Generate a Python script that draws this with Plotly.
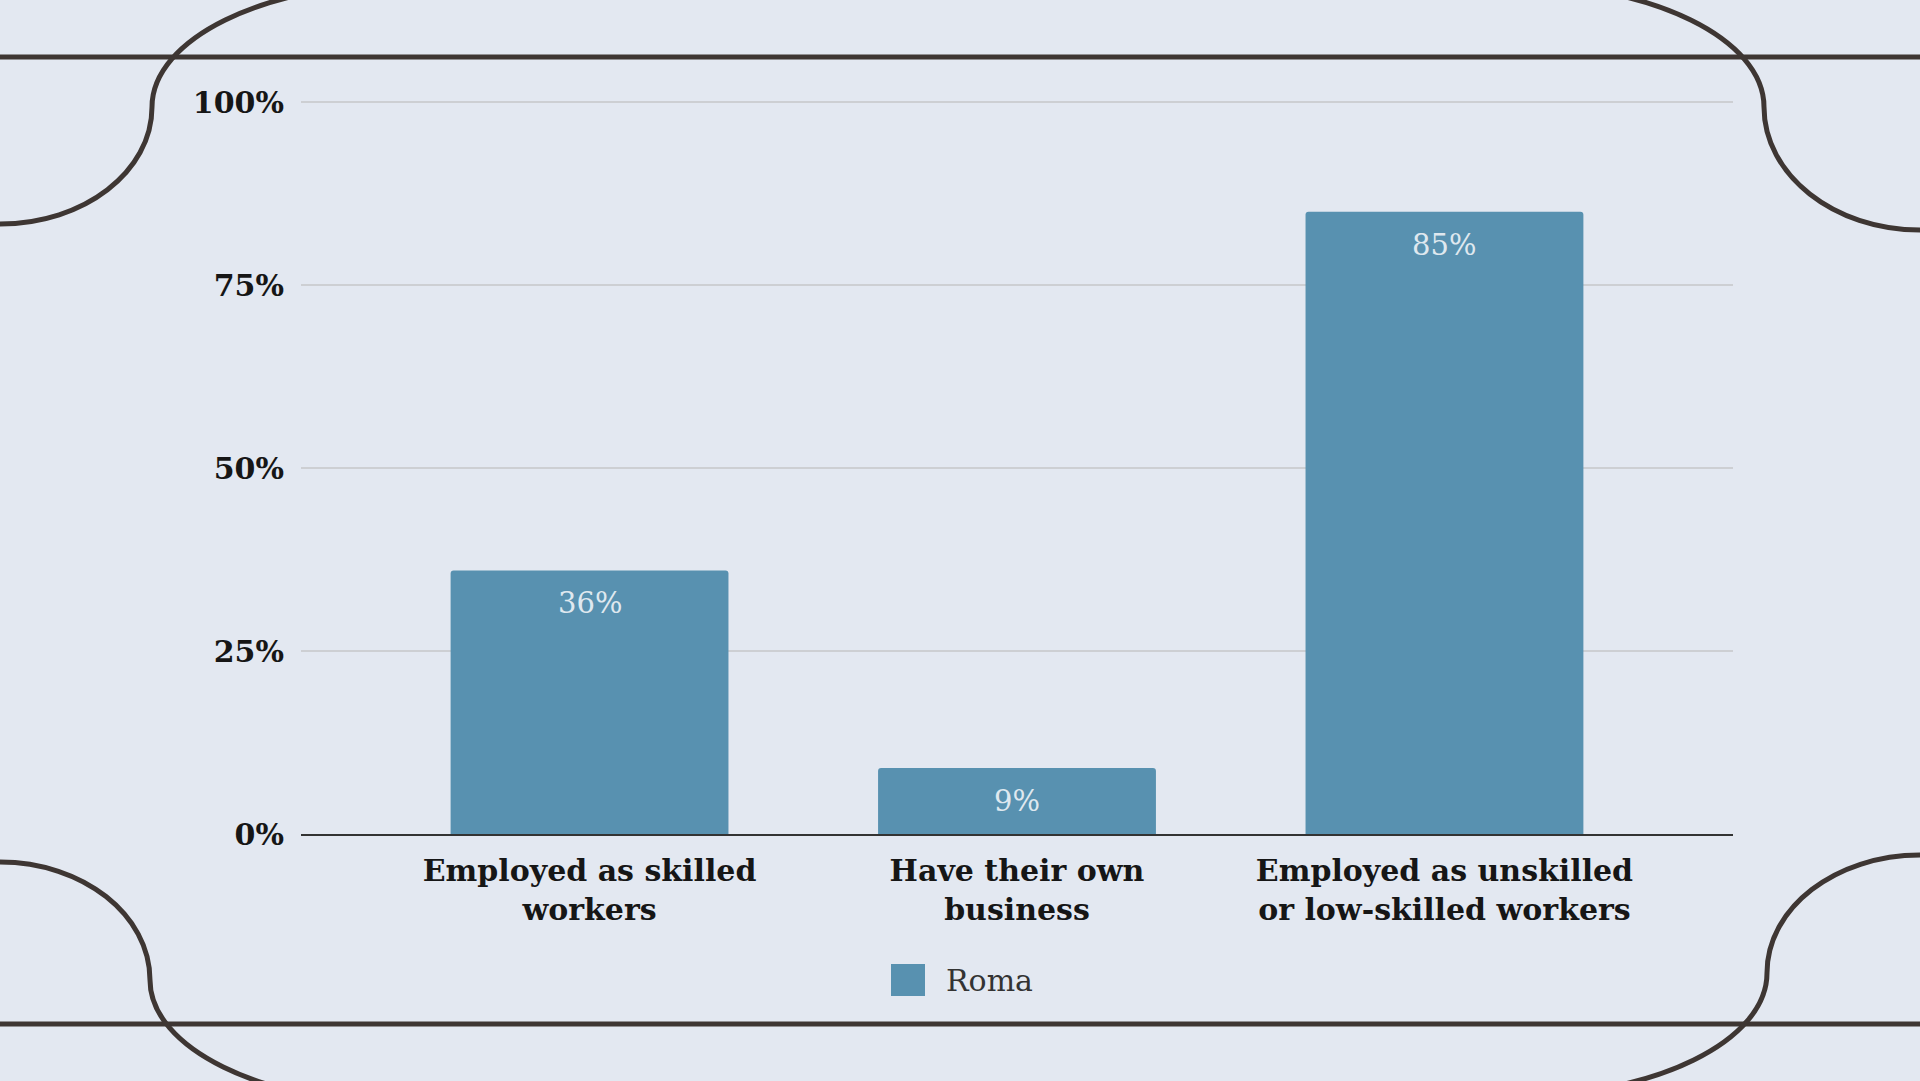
import plotly.graph_objects as go

# ---- data ----
categories = ["Employed as skilled workers", "Have their own business",
              "Employed as unskilled or low-skilled workers"]
tick_labels = ["Employed as skilled<br>workers", "Have their own<br>business",
               "Employed as unskilled<br>or low-skilled workers"]
roma_values = [36, 9, 85]
series_name = "Roma"
y_tickvals = [0, 25, 50, 75, 100]
y_ticktext = ["0%", "25%", "50%", "75%", "100%"]

BG = "#e3e8f1"
BAR = "#5891b0"
DECO = "#3e3633"
W, H = 1920, 1081
L, R, T, B = 301, 187, 98, 247
PW, PH = W - L - R, H - T - B
Y_TOP = 100 * PH / (834 - 102)   # keeps 100% at pixel row 102


def px(X):
    return (X - L) / PW


def py(Y):
    return (H - B - Y) / PH


def pt(X, Y):
    return f"{px(X):.5f},{py(Y):.5f}"


fig = go.Figure()
fig.add_trace(go.Bar(
    x=categories, y=roma_values, name=series_name,
    marker=dict(color=BAR, line=dict(width=0), cornerradius=3),
    showlegend=False,
    hovertemplate="%{y}%<extra></extra>",
))

# value labels inside bars near the top
annotations = []
for c, v in zip(categories, roma_values):
    annotations.append(dict(
        x=c, y=v, xref="x", yref="y", text=f"{v}%", showarrow=False,
        yanchor="middle", yshift=-33,
        font=dict(family="DejaVu Serif", size=29, color="#dfe8ef"),
    ))

# custom legend
annotations.append(dict(
    x=px(944), y=py(980), xref="paper", yref="paper", text=series_name,
    showarrow=False, xanchor="left", yanchor="middle",
    font=dict(family="DejaVu Serif", size=30, color="#333333"),
))

shapes = []
shapes.append(dict(type="rect", xref="paper", yref="paper",
                   x0=px(891), x1=px(925), y0=py(996), y1=py(964),
                   fillcolor=BAR, line=dict(width=0), layer="above"))

# decorative frame lines
for Yl in (57, 1024):
    shapes.append(dict(type="line", xref="paper", yref="paper",
                       x0=px(-10), x1=px(W + 10), y0=py(Yl), y1=py(Yl),
                       line=dict(color=DECO, width=5)))

k = 0.5523
corner_paths = []
# top-left
corner_paths.append(
    f"M{pt(0,224)} C{pt(152*k,224)} {pt(152,107+117*k)} {pt(152,107)} "
    f"C{pt(152,107-123*k)} {pt(402-250*k,-16)} {pt(402,-16)}")
# top-right
corner_paths.append(
    f"M{pt(1920,230)} C{pt(1920-156*k,230)} {pt(1764,107+123*k)} {pt(1764,107)} "
    f"C{pt(1764,107-123*k)} {pt(1514+250*k,-16)} {pt(1514,-16)}")
# bottom-left
corner_paths.append(
    f"M{pt(0,862)} C{pt(150*k,862)} {pt(150,980-118*k)} {pt(150,980)} "
    f"C{pt(150,980+123*k)} {pt(400-250*k,1103)} {pt(400,1103)}")
# bottom-right
corner_paths.append(
    f"M{pt(1920,855)} C{pt(1920-153*k,855)} {pt(1767,973-118*k)} {pt(1767,973)} "
    f"C{pt(1767,973+123*k)} {pt(1517+250*k,1096)} {pt(1517,1096)}")
for p in corner_paths:
    shapes.append(dict(type="path", xref="paper", yref="paper", path=p,
                       line=dict(color=DECO, width=5), fillcolor="rgba(0,0,0,0)"))

fig.update_layout(
    width=W, height=H, autosize=False,
    margin=dict(l=L, r=R, t=T, b=B, autoexpand=False),
    paper_bgcolor=BG, plot_bgcolor=BG,
    bargap=0.35,
    showlegend=False,
    annotations=annotations,
    shapes=shapes,
    xaxis=dict(
        type="category", range=[-0.675, 2.675],
        tickmode="array", tickvals=categories, ticktext=tick_labels,
        tickfont=dict(family="DejaVu Serif", size=30, color="#161616", weight="bold"),
        showgrid=False, showline=True, linecolor="#333333", linewidth=2,
        ticks="", ticklabelstandoff=9, fixedrange=True,
    ),
    yaxis=dict(
        range=[0, Y_TOP], tickmode="array", tickvals=y_tickvals, ticktext=y_ticktext,
        tickfont=dict(family="DejaVu Serif", size=30, color="#161616", weight="bold"),
        showgrid=True, gridcolor="#cdcfd3", gridwidth=2, zeroline=False,
        showline=False, ticks="", ticklabelstandoff=16, fixedrange=True,
    ),
)

fig.write_html("out.html", config={"displayModeBar": False},
               post_script="document.body.style.margin='0';document.body.style.overflow='hidden';")
